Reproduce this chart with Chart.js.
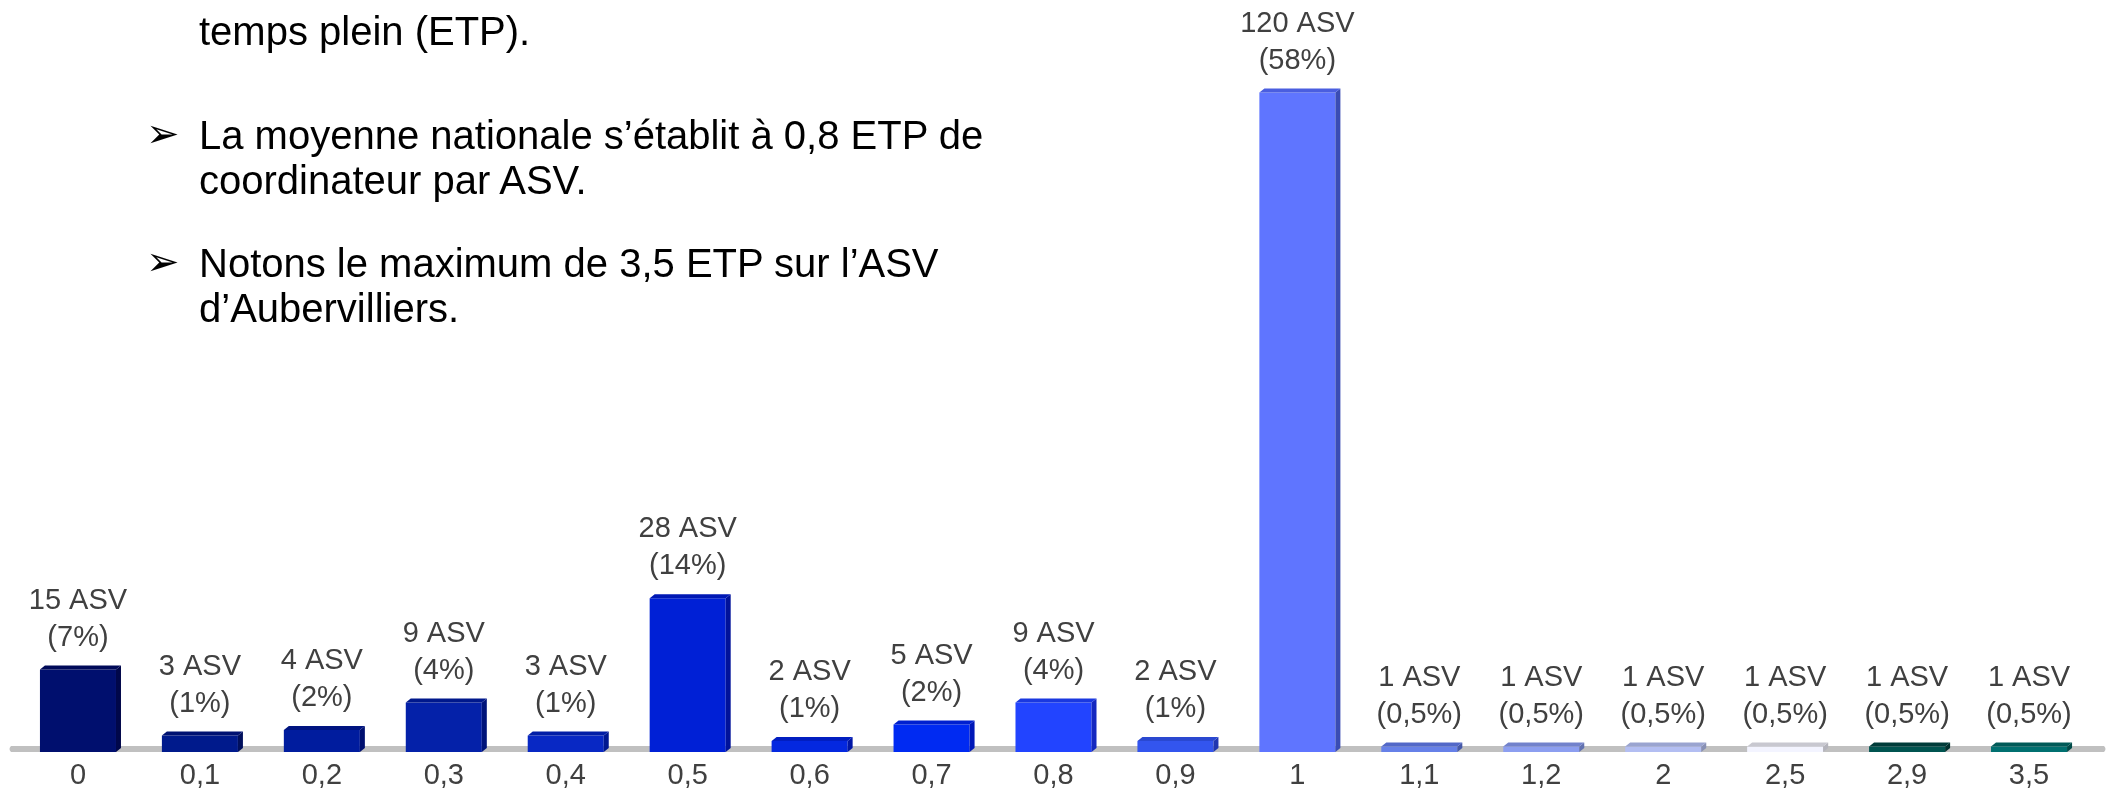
<!DOCTYPE html>
<html lang="fr">
<head>
    <meta charset="UTF-8">
    <title>Répartition des ASV selon les ETP de coordinateur</title>
    <script src="https://cdn.jsdelivr.net/npm/chart.js"></script>
    <style>
        html, body { margin: 0; padding: 0; background: #fff; }
        .slide { position: relative; width: 2109px; height: 789px; overflow: hidden; }
        #etpChart { position: absolute; left: 0; top: 0; }
        .note { position: absolute; font-family: "Liberation Sans", Arial, sans-serif; font-size: 40px; line-height: 40px; color: #000; white-space: nowrap; }
        .bullet { position: absolute; font-family: "DejaVu Sans", sans-serif; font-size: 40px; line-height: 40px; color: #000; }
    </style>
</head>
<body>
    <div class="slide">
        <canvas id="etpChart" width="2109" height="789"></canvas>
        <!-- texte de la diapo, positionné à la main -->
        <div class="note" style="left:199px;top:11px;">temps plein (ETP).</div>
        <div class="bullet" style="left:146px;top:113px;">&#10146;</div>
        <div class="note" style="left:199px;top:115px;">La moyenne nationale s’établit à 0,8 ETP de</div>
        <div class="note" style="left:199px;top:160px;">coordinateur par ASV.</div>
        <div class="bullet" style="left:146px;top:241px;">&#10146;</div>
        <div class="note" style="left:199px;top:243px;">Notons le maximum de 3,5 ETP sur l’ASV</div>
        <div class="note" style="left:199px;top:288px;">d’Aubervilliers.</div>
    </div>
    <script>
        // ETP de coordinateur par ASV
        const categories = ['0', '0,1', '0,2', '0,3', '0,4', '0,5', '0,6', '0,7', '0,8', '0,9', '1', '1,1', '1,2', '2', '2,5', '2,9', '3,5'];
        const asvCounts = [15, 3, 4, 9, 3, 28, 2, 5, 9, 2, 120, 1, 1, 1, 1, 1, 1];
        const asvShares = ['7%', '1%', '2%', '4%', '1%', '14%', '1%', '2%', '4%', '1%', '58%', '0,5%', '0,5%', '0,5%', '0,5%', '0,5%', '0,5%'];

        const faceColors = ['#000f6e', '#001a8c', '#001c9e', '#0421a9', '#0828c4', '#0020d6', '#0428e0', '#002af2', '#2244ff', '#3355ee', '#5f75ff', '#6680e8', '#8c9ef0', '#b3bef2', '#f3f4ff', '#005450', '#007070'];
        const sideColors = ['#00074a', '#000f5c', '#001070', '#00147a', '#001890', '#00129a', '#0016a6', '#0018b8', '#1428c0', '#2036b0', '#3a4cb4', '#4558a8', '#6272b0', '#8890b4', '#b4b4bc', '#00302e', '#004a48'];
        const topColors = ['#000a58', '#001272', '#001480', '#00188c', '#021ea6', '#0018b4', '#021ec0', '#0020d0', '#1a38e0', '#2a48d0', '#4a5ee0', '#5268c8', '#7282cc', '#9aa4d0', '#c8c8d0', '#003c3a', '#005a58'];

        const DX = 5, DY = 4;

        const floorPlugin = {
            id: 'floor',
            beforeDatasetsDraw(chart) {
                const { ctx, chartArea } = chart;
                const x0 = chartArea.left - 9, x1 = chartArea.right + 17;
                const y0 = chartArea.bottom - 6, h = 6;
                ctx.save();
                ctx.fillStyle = '#c0c0c0';
                ctx.beginPath();
                ctx.moveTo(x0 + 3, y0);
                ctx.lineTo(x1 - 3, y0);
                ctx.quadraticCurveTo(x1, y0 + h / 2, x1 - 3, y0 + h);
                ctx.lineTo(x0 + 3, y0 + h);
                ctx.quadraticCurveTo(x0, y0 + h / 2, x0 + 3, y0);
                ctx.fill();
                ctx.restore();
            }
        };

        const bevelPlugin = {
            id: 'bevel',
            afterDatasetsDraw(chart) {
                const { ctx } = chart;
                const meta = chart.getDatasetMeta(0);
                ctx.save();
                meta.data.forEach((bar, i) => {
                    const left = bar.x - bar.width / 2, right = bar.x + bar.width / 2;
                    const top = bar.y, bottom = bar.base;
                    // face droite
                    ctx.fillStyle = sideColors[i];
                    ctx.beginPath();
                    ctx.moveTo(right, top);
                    ctx.lineTo(right + DX, top - DY);
                    ctx.lineTo(right + DX, bottom - DY);
                    ctx.lineTo(right, bottom);
                    ctx.closePath();
                    ctx.fill();
                    // dessus
                    ctx.fillStyle = topColors[i];
                    ctx.beginPath();
                    ctx.moveTo(left, top);
                    ctx.lineTo(left + DX, top - DY);
                    ctx.lineTo(right + DX, top - DY);
                    ctx.lineTo(right, top);
                    ctx.closePath();
                    ctx.fill();
                });
                ctx.restore();
            }
        };

        const labelPlugin = {
            id: 'asvLabels',
            afterDatasetsDraw(chart) {
                const { ctx } = chart;
                const meta = chart.getDatasetMeta(0);
                ctx.save();
                ctx.font = '29px "Liberation Sans", Arial, sans-serif';
                ctx.fillStyle = '#404040';
                ctx.textAlign = 'center';
                ctx.textBaseline = 'middle';
                meta.data.forEach((bar, i) => {
                    const top = bar.y - DY;
                    ctx.fillText('(' + asvShares[i] + ')', bar.x, top - 28);
                    ctx.fillText(asvCounts[i] + ' ASV', bar.x, top - 65);
                });
                ctx.restore();
            }
        };

        new Chart(document.getElementById('etpChart'), {
            type: 'bar',
            data: {
                labels: categories,
                datasets: [{
                    data: asvCounts,
                    backgroundColor: faceColors,
                    borderWidth: 0,
                    categoryPercentage: 1,
                    barPercentage: 0.6235
                }]
            },
            options: {
                responsive: false,
                animation: false,
                layout: { padding: { left: 17, right: 19, top: 0, bottom: 0 } },
                plugins: { legend: { display: false }, tooltip: { enabled: false } },
                scales: {
                    x: {
                        grid: { display: false, drawTicks: false },
                        border: { display: false },
                        ticks: {
                            color: '#404040',
                            padding: 7,
                            maxRotation: 0,
                            autoSkip: false,
                            font: { family: '"Liberation Sans", Arial, sans-serif', size: 29 }
                        },
                        afterFit(scale) { scale.height = 37; }
                    },
                    y: {
                        display: false,
                        min: 0,
                        max: 136.85
                    }
                }
            },
            plugins: [floorPlugin, bevelPlugin, labelPlugin]
        });
    </script>
</body>
</html>
